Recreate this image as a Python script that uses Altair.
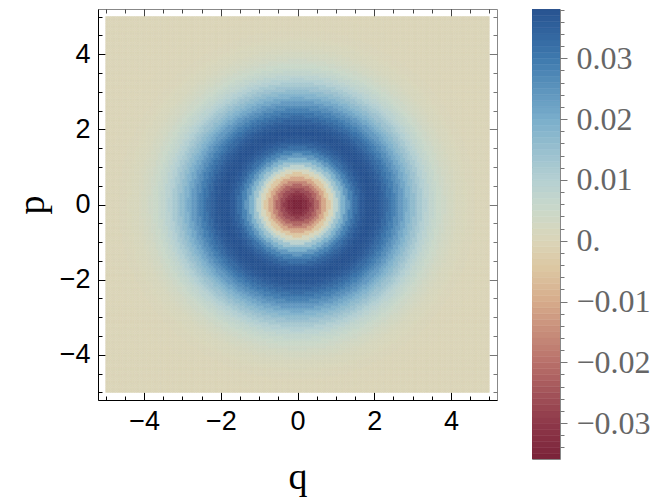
import altair as alt
import numpy as np
import pandas as pd

# Radial profile of the distribution: W at r = 0.0, 0.1, 0.2, ...
R_STEP = 0.1
W_PROFILE = [
    -0.0360, -0.0354, -0.0336, -0.0307, -0.0268, -0.0221, -0.0166, -0.0107, -0.0045, 0.0019,
    0.0081, 0.0140, 0.0195, 0.0244, 0.0287, 0.0321, 0.0348, 0.0366, 0.0377, 0.0380,
    0.0377, 0.0368, 0.0353, 0.0335, 0.0313, 0.0289, 0.0264, 0.0239, 0.0213, 0.0188,
    0.0165, 0.0143, 0.0123, 0.0104, 0.0088, 0.0073, 0.0061, 0.0050, 0.0040, 0.0032,
    0.0026, 0.0021, 0.0016, 0.0013, 0.0010, 0.0007, 0.0006, 0.0004, 0.0003, 0.0002,
    0.0002, 0.0001, 0.0001, 0.0001, 0.0, 0.0, 0.0, 0.0, 0.0, 0.0,
    0.0, 0.0, 0.0, 0.0, 0.0, 0.0, 0.0, 0.0, 0.0, 0.0,
    0.0, 0.0,
]

# grid cell centres in q and p (cells of 0.0625)
CELL = 0.0625
Q_CELLS = [round(-5.0 + CELL / 2 + CELL * i, 5) for i in range(160)]
P_CELLS = [round(-5.0 + CELL / 2 + CELL * i, 5) for i in range(160)]

MAJOR_TICKS = [-4, -2, 0, 2, 4]
MINOR_TICKS = [round(-5.0 + 0.5 * i, 1) for i in range(21)]
AXIS_DOMAIN = [-5.2, 5.2]

# colour bar
CB_DOMAIN = [-0.0359, 0.0381]
CB_STOPS = [-0.0359, -0.03, -0.02, -0.01, -0.005, 0.0, 0.005, 0.01, 0.02, 0.03, 0.0381]
CB_COLORS = ["#7a2339", "#8e3849", "#b8706a", "#d6ab8b", "#dcc5a0", "#dbd5b8",
             "#cad8c9", "#b5d0d2", "#7aaecb", "#3e79ae", "#275290"]
CB_MAJOR = [-0.03, -0.02, -0.01, 0.0, 0.01, 0.02, 0.03]
CB_MINOR = [round(-0.034 + 0.002 * i, 3) for i in range(37)]
CB_BANDS = [round(-0.036 + 0.001 * i, 3) for i in range(75)]

rows = []
for q in Q_CELLS:
    for p in P_CELLS:
        idx = min(int(round(np.hypot(q, p) / R_STEP)), len(W_PROFILE) - 1)
        rows.append({"q": q, "p": p, "w": W_PROFILE[idx]})
grid = pd.DataFrame(rows)
anchor = pd.DataFrame({"q": [0.0], "p": [0.0]})

XS = alt.Scale(domain=AXIS_DOMAIN, nice=False, zero=False)
YS = alt.Scale(domain=AXIS_DOMAIN, nice=False, zero=False)
CS = alt.Scale(domain=CB_STOPS, range=CB_COLORS, interpolate="rgb")

SANS = "Liberation Sans"
SERIF = "Liberation Serif"

x_lab = alt.Axis(orient="bottom", values=MAJOR_TICKS, ticks=False, tickSize=0, domain=True,
                 domainColor="black", domainWidth=1, labelFont=SANS, labelFontSize=27,
                 labelColor="black", labelPadding=8, format="d", grid=False,
                 titleFont=SERIF, titleFontSize=38, titleFontWeight="normal",
                 titleColor="black", titlePadding=24)
y_lab = alt.Axis(orient="left", values=MAJOR_TICKS, ticks=False, tickSize=0, domain=True,
                 domainColor="black", domainWidth=1, labelFont=SANS, labelFontSize=27,
                 labelColor="black", labelPadding=8, format="d", grid=False,
                 titleFont=SERIF, titleFontSize=38, titleFontWeight="normal",
                 titleColor="black", titlePadding=8)


def ticks_axis(orient, values, size, color):
    return alt.Axis(orient=orient, values=values, labels=False, domain=False, ticks=True,
                    tickSize=size, offset=-size, tickColor=color, tickWidth=1, grid=False)


heat = alt.Chart(grid).transform_calculate(
    q0="datum.q - 0.03125", q1="datum.q + 0.03125",
    p0="datum.p - 0.03125", p1="datum.p + 0.03125"
).mark_rect(strokeWidth=0.5).encode(
    x=alt.X("q0:Q", scale=XS, axis=x_lab, title="q"),
    x2="q1:Q",
    y=alt.Y("p0:Q", scale=YS, axis=y_lab, title="p"),
    y2="p1:Q",
    color=alt.Color("w:Q", scale=CS, legend=None),
    stroke=alt.Stroke("w:Q", scale=CS, legend=None),
)


def tick_layer(xaxis, yaxis):
    return alt.Chart(anchor).mark_point(opacity=0).encode(
        x=alt.X("q:Q", scale=XS, axis=xaxis, title=None),
        y=alt.Y("p:Q", scale=YS, axis=yaxis, title=None),
    )


layers = [
    heat,
    tick_layer(ticks_axis("bottom", MAJOR_TICKS, 8, "black"), ticks_axis("left", MAJOR_TICKS, 8, "black")),
    tick_layer(ticks_axis("bottom", MINOR_TICKS, 4, "black"), ticks_axis("left", MINOR_TICKS, 4, "black")),
    tick_layer(ticks_axis("top", MAJOR_TICKS, 8, "#444444"), ticks_axis("right", MAJOR_TICKS, 8, "#777777")),
    tick_layer(ticks_axis("top", MINOR_TICKS, 4, "#444444"), ticks_axis("right", MINOR_TICKS, 4, "#777777")),
]
main = alt.layer(*layers).resolve_axis(x="independent", y="independent").properties(
    width=399, height=391
)

CBS = alt.Scale(domain=CB_DOMAIN, nice=False, zero=False)
CBX = alt.Scale(domain=[0, 1], nice=False, zero=False)
cb_df = pd.DataFrame({"lo": CB_BANDS})
cb_major = alt.Axis(orient="right", values=CB_MAJOR, tickSize=7, tickColor="#777777",
                    domain=False, grid=False, labelFont=SERIF, labelFontSize=32,
                    labelColor="#666666", labelPadding=9,
                    labelExpr="datum.value == 0 ? '0.' : format(datum.value, '.2f')")
cb_minor = alt.Axis(orient="right", values=CB_MINOR, tickSize=4, tickColor="#777777",
                    domain=False, grid=False, labels=False)

bars = alt.Chart(cb_df).transform_calculate(
    hi="datum.lo + 0.001", mid="datum.lo + 0.0005", c0="0", c1="1"
).mark_rect(clip=True, strokeWidth=0.5).encode(
    x=alt.X("c0:Q", scale=CBX, axis=None),
    x2="c1:Q",
    y=alt.Y("lo:Q", scale=CBS, axis=cb_major, title=None),
    y2="hi:Q",
    color=alt.Color("mid:Q", scale=CS, legend=None),
    stroke=alt.Stroke("mid:Q", scale=CS, legend=None),
)
cb_ticks = alt.Chart(pd.DataFrame({"lo": [0.0], "c": [0.5]})).mark_point(opacity=0).encode(
    x=alt.X("c:Q", scale=CBX, axis=None),
    y=alt.Y("lo:Q", scale=CBS, axis=cb_minor, title=None),
)
cbar = alt.layer(bars, cb_ticks).resolve_axis(y="independent").properties(width=28, height=450)

chart = alt.hconcat(main, cbar, spacing=33).properties(
    padding={"left": 4, "top": 0, "right": 0, "bottom": 0}
).configure_view(
    stroke="#888888", strokeWidth=1
).configure_axis(grid=False)

chart.save("out.html", embed_options={"renderer": "svg", "actions": False})
